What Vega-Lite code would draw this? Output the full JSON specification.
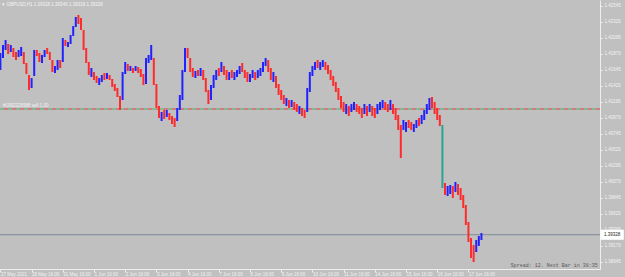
{
  "$schema": "https://vega.github.io/schema/vega-lite/v6.json",
  "width": 600,
  "height": 269,
  "autosize": {"type": "none"},
  "padding": {"left": 0, "top": 0, "right": 25, "bottom": 8},
  "background": "#C0C0C0",
  "config": {
    "view": {"stroke": null, "fill": "#C0C0C0"},
    "font": "Liberation Sans",
    "axis": {"labelOverlap": false, "labelBound": false, "labelFlush": false}
  },
  "datasets": {
    "bars": [
      {"t":0,"o":1.41645,"h":1.41884,"l":1.41645,"c":1.41884},
      {"t":2,"o":1.41813,"h":1.41996,"l":1.41813,"c":1.41996},
      {"t":4,"o":1.41926,"h":1.42066,"l":1.41926,"c":1.42066},
      {"t":6,"o":1.42010,"h":1.42010,"l":1.41870,"c":1.41870},
      {"t":8,"o":1.41898,"h":1.41996,"l":1.41898,"c":1.41996},
      {"t":10,"o":1.41954,"h":1.41954,"l":1.41827,"c":1.41827},
      {"t":12,"o":1.41898,"h":1.41898,"l":1.41785,"c":1.41785},
      {"t":14,"o":1.41827,"h":1.41926,"l":1.41827,"c":1.41926},
      {"t":16,"o":1.41841,"h":1.41968,"l":1.41841,"c":1.41968},
      {"t":18,"o":1.41898,"h":1.41898,"l":1.41729,"c":1.41729},
      {"t":20,"o":1.41743,"h":1.41743,"l":1.41588,"c":1.41588},
      {"t":22,"o":1.41574,"h":1.41574,"l":1.41363,"c":1.41363},
      {"t":24,"o":1.41391,"h":1.41532,"l":1.41391,"c":1.41532},
      {"t":26,"o":1.41560,"h":1.41926,"l":1.41560,"c":1.41926},
      {"t":28,"o":1.41926,"h":1.41926,"l":1.41841,"c":1.41841},
      {"t":30,"o":1.41884,"h":1.41884,"l":1.41757,"c":1.41757},
      {"t":32,"o":1.41743,"h":1.41856,"l":1.41743,"c":1.41856},
      {"t":34,"o":1.41827,"h":1.41926,"l":1.41827,"c":1.41926},
      {"t":36,"o":1.41954,"h":1.41954,"l":1.41870,"c":1.41870},
      {"t":38,"o":1.41898,"h":1.41898,"l":1.41785,"c":1.41785},
      {"t":40,"o":1.41785,"h":1.41785,"l":1.41616,"c":1.41616},
      {"t":42,"o":1.41602,"h":1.41701,"l":1.41602,"c":1.41701},
      {"t":44,"o":1.41645,"h":1.41785,"l":1.41645,"c":1.41785},
      {"t":46,"o":1.41785,"h":1.41785,"l":1.41673,"c":1.41673},
      {"t":48,"o":1.41757,"h":1.42095,"l":1.41757,"c":1.42095},
      {"t":50,"o":1.42066,"h":1.42066,"l":1.41982,"c":1.41982},
      {"t":52,"o":1.41968,"h":1.42038,"l":1.41968,"c":1.42038},
      {"t":54,"o":1.42010,"h":1.42137,"l":1.42010,"c":1.42137},
      {"t":56,"o":1.42123,"h":1.42263,"l":1.42123,"c":1.42263},
      {"t":58,"o":1.42249,"h":1.42390,"l":1.42249,"c":1.42390},
      {"t":60,"o":1.42418,"h":1.42418,"l":1.42291,"c":1.42291},
      {"t":62,"o":1.42376,"h":1.42376,"l":1.42207,"c":1.42207},
      {"t":64,"o":1.42207,"h":1.42207,"l":1.41926,"c":1.41926},
      {"t":66,"o":1.41954,"h":1.41954,"l":1.41743,"c":1.41743},
      {"t":68,"o":1.41757,"h":1.41757,"l":1.41574,"c":1.41574},
      {"t":70,"o":1.41546,"h":1.41673,"l":1.41546,"c":1.41673},
      {"t":72,"o":1.41616,"h":1.41616,"l":1.41504,"c":1.41504},
      {"t":74,"o":1.41560,"h":1.41560,"l":1.41462,"c":1.41462},
      {"t":76,"o":1.41434,"h":1.41532,"l":1.41434,"c":1.41532},
      {"t":78,"o":1.41476,"h":1.41574,"l":1.41476,"c":1.41574},
      {"t":80,"o":1.41602,"h":1.41602,"l":1.41504,"c":1.41504},
      {"t":82,"o":1.41518,"h":1.41602,"l":1.41518,"c":1.41602},
      {"t":84,"o":1.41574,"h":1.41574,"l":1.41504,"c":1.41504},
      {"t":86,"o":1.41518,"h":1.41518,"l":1.41406,"c":1.41406},
      {"t":88,"o":1.41448,"h":1.41448,"l":1.41349,"c":1.41349},
      {"t":90,"o":1.41391,"h":1.41391,"l":1.41265,"c":1.41265},
      {"t":92,"o":1.41279,"h":1.41279,"l":1.41082,"c":1.41082},
      {"t":94,"o":1.41223,"h":1.41616,"l":1.41223,"c":1.41616},
      {"t":96,"o":1.41588,"h":1.41757,"l":1.41588,"c":1.41757},
      {"t":98,"o":1.41729,"h":1.41729,"l":1.41631,"c":1.41631},
      {"t":100,"o":1.41631,"h":1.41701,"l":1.41631,"c":1.41701},
      {"t":102,"o":1.41673,"h":1.41673,"l":1.41602,"c":1.41602},
      {"t":104,"o":1.41631,"h":1.41701,"l":1.41631,"c":1.41701},
      {"t":106,"o":1.41687,"h":1.41687,"l":1.41602,"c":1.41602},
      {"t":108,"o":1.41659,"h":1.41659,"l":1.41546,"c":1.41546},
      {"t":110,"o":1.41588,"h":1.41588,"l":1.41434,"c":1.41434},
      {"t":112,"o":1.41448,"h":1.41813,"l":1.41448,"c":1.41813},
      {"t":114,"o":1.41743,"h":1.41856,"l":1.41743,"c":1.41856},
      {"t":116,"o":1.41785,"h":1.41996,"l":1.41785,"c":1.41996},
      {"t":118,"o":1.41813,"h":1.41813,"l":1.41434,"c":1.41434},
      {"t":120,"o":1.41448,"h":1.41448,"l":1.41110,"c":1.41110},
      {"t":122,"o":1.41138,"h":1.41138,"l":1.40970,"c":1.40970},
      {"t":124,"o":1.40927,"h":1.41054,"l":1.40927,"c":1.41054},
      {"t":126,"o":1.41082,"h":1.41082,"l":1.40956,"c":1.40956},
      {"t":128,"o":1.40984,"h":1.41082,"l":1.40984,"c":1.41082},
      {"t":130,"o":1.41040,"h":1.41040,"l":1.40941,"c":1.40941},
      {"t":132,"o":1.40998,"h":1.40998,"l":1.40885,"c":1.40885},
      {"t":134,"o":1.40970,"h":1.40970,"l":1.40843,"c":1.40843},
      {"t":136,"o":1.40927,"h":1.41110,"l":1.40927,"c":1.41110},
      {"t":138,"o":1.41082,"h":1.41293,"l":1.41082,"c":1.41293},
      {"t":140,"o":1.41223,"h":1.41645,"l":1.41223,"c":1.41645},
      {"t":142,"o":1.41616,"h":1.41954,"l":1.41616,"c":1.41954},
      {"t":144,"o":1.41954,"h":1.41954,"l":1.41813,"c":1.41813},
      {"t":146,"o":1.41813,"h":1.41813,"l":1.41616,"c":1.41616},
      {"t":148,"o":1.41673,"h":1.41673,"l":1.41546,"c":1.41546},
      {"t":150,"o":1.41532,"h":1.41631,"l":1.41532,"c":1.41631},
      {"t":152,"o":1.41645,"h":1.41645,"l":1.41560,"c":1.41560},
      {"t":154,"o":1.41560,"h":1.41673,"l":1.41560,"c":1.41673},
      {"t":156,"o":1.41645,"h":1.41645,"l":1.41504,"c":1.41504},
      {"t":158,"o":1.41532,"h":1.41532,"l":1.41335,"c":1.41335},
      {"t":160,"o":1.41363,"h":1.41363,"l":1.41166,"c":1.41166},
      {"t":162,"o":1.41223,"h":1.41434,"l":1.41223,"c":1.41434},
      {"t":164,"o":1.41391,"h":1.41574,"l":1.41391,"c":1.41574},
      {"t":166,"o":1.41504,"h":1.41645,"l":1.41504,"c":1.41645},
      {"t":168,"o":1.41673,"h":1.41673,"l":1.41560,"c":1.41560},
      {"t":170,"o":1.41616,"h":1.41757,"l":1.41616,"c":1.41757},
      {"t":172,"o":1.41701,"h":1.41701,"l":1.41574,"c":1.41574},
      {"t":174,"o":1.41645,"h":1.41645,"l":1.41504,"c":1.41504},
      {"t":176,"o":1.41504,"h":1.41616,"l":1.41504,"c":1.41616},
      {"t":178,"o":1.41645,"h":1.41645,"l":1.41532,"c":1.41532},
      {"t":180,"o":1.41504,"h":1.41616,"l":1.41504,"c":1.41616},
      {"t":182,"o":1.41546,"h":1.41645,"l":1.41546,"c":1.41645},
      {"t":184,"o":1.41588,"h":1.41701,"l":1.41588,"c":1.41701},
      {"t":186,"o":1.41743,"h":1.41743,"l":1.41616,"c":1.41616},
      {"t":188,"o":1.41645,"h":1.41645,"l":1.41532,"c":1.41532},
      {"t":190,"o":1.41616,"h":1.41616,"l":1.41476,"c":1.41476},
      {"t":192,"o":1.41476,"h":1.41588,"l":1.41476,"c":1.41588},
      {"t":194,"o":1.41532,"h":1.41645,"l":1.41532,"c":1.41645},
      {"t":196,"o":1.41616,"h":1.41616,"l":1.41504,"c":1.41504},
      {"t":198,"o":1.41532,"h":1.41645,"l":1.41532,"c":1.41645},
      {"t":200,"o":1.41560,"h":1.41673,"l":1.41560,"c":1.41673},
      {"t":202,"o":1.41616,"h":1.41757,"l":1.41616,"c":1.41757},
      {"t":204,"o":1.41701,"h":1.41813,"l":1.41701,"c":1.41813},
      {"t":206,"o":1.41785,"h":1.41785,"l":1.41616,"c":1.41616},
      {"t":208,"o":1.41673,"h":1.41673,"l":1.41504,"c":1.41504},
      {"t":210,"o":1.41476,"h":1.41616,"l":1.41476,"c":1.41616},
      {"t":212,"o":1.41560,"h":1.41560,"l":1.41391,"c":1.41391},
      {"t":214,"o":1.41448,"h":1.41448,"l":1.41293,"c":1.41293},
      {"t":216,"o":1.41363,"h":1.41363,"l":1.41223,"c":1.41223},
      {"t":218,"o":1.41293,"h":1.41293,"l":1.41166,"c":1.41166},
      {"t":220,"o":1.41138,"h":1.41251,"l":1.41138,"c":1.41251},
      {"t":222,"o":1.41223,"h":1.41223,"l":1.41110,"c":1.41110},
      {"t":224,"o":1.41124,"h":1.41223,"l":1.41124,"c":1.41223},
      {"t":226,"o":1.41195,"h":1.41195,"l":1.41082,"c":1.41082},
      {"t":228,"o":1.41166,"h":1.41166,"l":1.41054,"c":1.41054},
      {"t":230,"o":1.41026,"h":1.41138,"l":1.41026,"c":1.41138},
      {"t":232,"o":1.41110,"h":1.41110,"l":1.40998,"c":1.40998},
      {"t":234,"o":1.41082,"h":1.41082,"l":1.40970,"c":1.40970},
      {"t":236,"o":1.41054,"h":1.41391,"l":1.41054,"c":1.41391},
      {"t":238,"o":1.41335,"h":1.41616,"l":1.41335,"c":1.41616},
      {"t":240,"o":1.41560,"h":1.41701,"l":1.41560,"c":1.41701},
      {"t":242,"o":1.41645,"h":1.41757,"l":1.41645,"c":1.41757},
      {"t":244,"o":1.41785,"h":1.41785,"l":1.41673,"c":1.41673},
      {"t":246,"o":1.41645,"h":1.41757,"l":1.41645,"c":1.41757},
      {"t":248,"o":1.41687,"h":1.41785,"l":1.41687,"c":1.41785},
      {"t":250,"o":1.41757,"h":1.41757,"l":1.41645,"c":1.41645},
      {"t":252,"o":1.41715,"h":1.41715,"l":1.41588,"c":1.41588},
      {"t":254,"o":1.41645,"h":1.41645,"l":1.41504,"c":1.41504},
      {"t":256,"o":1.41560,"h":1.41560,"l":1.41420,"c":1.41420},
      {"t":258,"o":1.41476,"h":1.41476,"l":1.41335,"c":1.41335},
      {"t":260,"o":1.41391,"h":1.41391,"l":1.41223,"c":1.41223},
      {"t":262,"o":1.41279,"h":1.41279,"l":1.41110,"c":1.41110},
      {"t":264,"o":1.41195,"h":1.41195,"l":1.41054,"c":1.41054},
      {"t":266,"o":1.41026,"h":1.41166,"l":1.41026,"c":1.41166},
      {"t":268,"o":1.41138,"h":1.41138,"l":1.40998,"c":1.40998},
      {"t":270,"o":1.41054,"h":1.41166,"l":1.41054,"c":1.41166},
      {"t":272,"o":1.41082,"h":1.41195,"l":1.41082,"c":1.41195},
      {"t":274,"o":1.41166,"h":1.41166,"l":1.41054,"c":1.41054},
      {"t":276,"o":1.41138,"h":1.41138,"l":1.41026,"c":1.41026},
      {"t":278,"o":1.41110,"h":1.41110,"l":1.40970,"c":1.40970},
      {"t":280,"o":1.41026,"h":1.41166,"l":1.41026,"c":1.41166},
      {"t":282,"o":1.41138,"h":1.41138,"l":1.40998,"c":1.40998},
      {"t":284,"o":1.41054,"h":1.41166,"l":1.41054,"c":1.41166},
      {"t":286,"o":1.41138,"h":1.41138,"l":1.40998,"c":1.40998},
      {"t":288,"o":1.41110,"h":1.41110,"l":1.40970,"c":1.40970},
      {"t":290,"o":1.41026,"h":1.41166,"l":1.41026,"c":1.41166},
      {"t":292,"o":1.41082,"h":1.41195,"l":1.41082,"c":1.41195},
      {"t":294,"o":1.41110,"h":1.41223,"l":1.41110,"c":1.41223},
      {"t":296,"o":1.41195,"h":1.41195,"l":1.41082,"c":1.41082},
      {"t":298,"o":1.41166,"h":1.41166,"l":1.41054,"c":1.41054},
      {"t":300,"o":1.41082,"h":1.41223,"l":1.41082,"c":1.41223},
      {"t":302,"o":1.41166,"h":1.41166,"l":1.41026,"c":1.41026},
      {"t":304,"o":1.41110,"h":1.41110,"l":1.40941,"c":1.40941},
      {"t":306,"o":1.41012,"h":1.41012,"l":1.40801,"c":1.40801},
      {"t":308,"o":1.40871,"h":1.40871,"l":1.40407,"c":1.40407},
      {"t":310,"o":1.40801,"h":1.40941,"l":1.40801,"c":1.40941},
      {"t":312,"o":1.40773,"h":1.40913,"l":1.40773,"c":1.40913},
      {"t":314,"o":1.40941,"h":1.40941,"l":1.40829,"c":1.40829},
      {"t":316,"o":1.40913,"h":1.40913,"l":1.40801,"c":1.40801},
      {"t":318,"o":1.40773,"h":1.40885,"l":1.40773,"c":1.40885},
      {"t":320,"o":1.40829,"h":1.40941,"l":1.40829,"c":1.40941},
      {"t":322,"o":1.40970,"h":1.40970,"l":1.40857,"c":1.40857},
      {"t":324,"o":1.40885,"h":1.41012,"l":1.40885,"c":1.41012},
      {"t":326,"o":1.40941,"h":1.41082,"l":1.40941,"c":1.41082},
      {"t":328,"o":1.41026,"h":1.41166,"l":1.41026,"c":1.41166},
      {"t":330,"o":1.41082,"h":1.41251,"l":1.41082,"c":1.41251},
      {"t":332,"o":1.41265,"h":1.41265,"l":1.41110,"c":1.41110},
      {"t":334,"o":1.41195,"h":1.41195,"l":1.41026,"c":1.41026},
      {"t":336,"o":1.41110,"h":1.41110,"l":1.40941,"c":1.40941},
      {"t":338,"o":1.41012,"h":1.41012,"l":1.40857,"c":1.40857},
      {"t":340,"o":1.40871,"h":1.40871,"l":1.39985,"c":1.39985},
      {"t":342,"o":1.40056,"h":1.40056,"l":1.39887,"c":1.39887},
      {"t":344,"o":1.39873,"h":1.40013,"l":1.39873,"c":1.40013},
      {"t":346,"o":1.39901,"h":1.40027,"l":1.39901,"c":1.40027},
      {"t":348,"o":1.40013,"h":1.40013,"l":1.39845,"c":1.39845},
      {"t":350,"o":1.39929,"h":1.40070,"l":1.39929,"c":1.40070},
      {"t":352,"o":1.40041,"h":1.40041,"l":1.39887,"c":1.39887},
      {"t":354,"o":1.39985,"h":1.39985,"l":1.39816,"c":1.39816},
      {"t":356,"o":1.39887,"h":1.39887,"l":1.39704,"c":1.39704},
      {"t":358,"o":1.39746,"h":1.39746,"l":1.39465,"c":1.39465},
      {"t":360,"o":1.39507,"h":1.39507,"l":1.39226,"c":1.39226},
      {"t":362,"o":1.39282,"h":1.39282,"l":1.39001,"c":1.39001},
      {"t":364,"o":1.39184,"h":1.39184,"l":1.38945,"c":1.38945},
      {"t":366,"o":1.39085,"h":1.39254,"l":1.39085,"c":1.39254},
      {"t":368,"o":1.39170,"h":1.39310,"l":1.39170,"c":1.39310},
      {"t":370,"o":1.39254,"h":1.39352,"l":1.39254,"c":1.39328}
    ]
  },
  "layer": [
    {
      "data": {"values": [{"bid": 1.39328}]},
      "mark": {"type": "rule", "color": "#7D8B99", "strokeWidth": 1},
      "encoding": {
        "y": {"field": "bid", "type": "quantitative", "scale": {"domain": [1.38846, 1.42629], "zero": false, "nice": false},
          "axis": {
            "orient": "right",
            "title": null,
            "values": [1.38945,1.3917,1.39395,1.3962,1.39845,1.4007,1.40295,1.4052,1.40745,1.4097,1.41195,1.4142,1.41645,1.4187,1.42095,1.4232,1.42545],
            "tickCount": 40,
            "format": ".5f",
            "grid": false,
            "domainColor": "#EEEEEE",
            "tickColor": "#EEEEEE",
            "tickSize": 2,
            "labelColor": "#F2F2F2",
            "labelFontSize": 4.5,
            "labelPadding": 2,
            "labelOverlap": false,
            "labelFont": "Liberation Sans"
          }
        }
      }
    },
    {
      "data": {"values": [{"level": 1.41096}]},
      "mark": {"type": "rule", "color": "#E23A3A", "strokeWidth": 1, "strokeDash": [4, 4]},
      "encoding": {"y": {"field": "level", "type": "quantitative"}}
    },
    {
      "data": {"values": [{"level": 1.41096}]},
      "mark": {"type": "rule", "color": "#4CAF6A", "strokeWidth": 1, "strokeDash": [4, 4], "strokeDashOffset": 4},
      "encoding": {"y": {"field": "level", "type": "quantitative"}}
    },
    {
      "data": {"values": [{"label": "#1992326988 sell 1.00"}]},
      "mark": {"type": "text", "align": "left", "baseline": "bottom", "fontSize": 4.5, "color": "#F4F4F4", "dy": -1},
      "encoding": {
        "x": {"datum": 2},
        "y": {"datum": 1.41096},
        "text": {"field": "label"}
      }
    },
    {
      "data": {"name": "bars"},
      "mark": {"type": "rule", "strokeWidth": 2, "clip": true},
      "encoding": {
        "x": {"field": "t", "type": "quantitative", "scale": {"domain": [-0.3, 461.2], "zero": false, "nice": false},
          "axis": {
            "orient": "bottom",
            "title": null,
            "values": [0,24,48,72,96,120,144,168,192,216,240,264,288,312,336,360],
            "tickCount": 40,
            "labelExpr": "['27 May 2021','28 May 16:00','31 May 16:00','1 Jun 16:00','2 Jun 16:00','3 Jun 16:00','4 Jun 16:00','7 Jun 16:00','8 Jun 16:00','9 Jun 16:00','10 Jun 16:00','11 Jun 16:00','14 Jun 16:00','15 Jun 16:00','16 Jun 16:00','17 Jun 16:00'][round(datum.value/24)]",
            "grid": false,
            "domainColor": "#EEEEEE",
            "tickColor": "#EEEEEE",
            "tickSize": 3,
            "labelAlign": "left",
            "labelBaseline": "top",
            "labelPadding": -1,
            "labelDx": 1,
            "labelColor": "#F2F2F2",
            "labelFontSize": 4.5,
            "labelOverlap": false,
            "labelBound": false,
            "labelFlush": false,
            "labelFont": "Liberation Sans"
          }
        },
        "y": {"field": "l", "type": "quantitative"},
        "y2": {"field": "h"},
        "color": {
          "condition": [
            {"test": "datum.h - datum.l > 0.006", "value": "#2BA58F"},
            {"test": "datum.c >= datum.o", "value": "#2222FF"}
          ],
          "value": "#FF2B2B"
        }
      }
    },
    {
      "data": {"values": [{"title": "▾ GBPUSD,H1  1.39328 1.39340 1.39318 1.39328"}]},
      "mark": {"type": "text", "align": "left", "baseline": "middle", "fontSize": 4.5, "color": "#F4F4F4"},
      "encoding": {
        "x": {"datum": 1.5},
        "y": {"datum": 1.42559},
        "text": {"field": "title"}
      }
    },
    {
      "data": {"values": [{"bid": 1.39328}]},
      "mark": {"type": "rect", "fill": "#FFFFFF", "clip": false},
      "encoding": {
        "x": {"datum": 461.5},
        "x2": {"datum": 479.5},
        "y": {"datum": 1.39399},
        "y2": {"datum": 1.39257}
      }
    },
    {
      "data": {"values": [{"bid": 1.39328}]},
      "mark": {"type": "text", "align": "center", "baseline": "middle", "fontSize": 4.5, "color": "#222222", "clip": false},
      "encoding": {
        "x": {"datum": 470.5},
        "y": {"field": "bid", "type": "quantitative"},
        "text": {"field": "bid", "type": "quantitative", "format": ".5f"}
      }
    },
    {
      "data": {"values": [{"info": "Spread: 12. Next Bar in 38:35"}]},
      "mark": {"type": "text", "align": "right", "baseline": "middle", "fontSize": 5, "font": "Liberation Mono", "color": "#585858"},
      "encoding": {
        "x": {"datum": 459.5},
        "y": {"datum": 1.38903},
        "text": {"field": "info"}
      }
    }
  ]
}
